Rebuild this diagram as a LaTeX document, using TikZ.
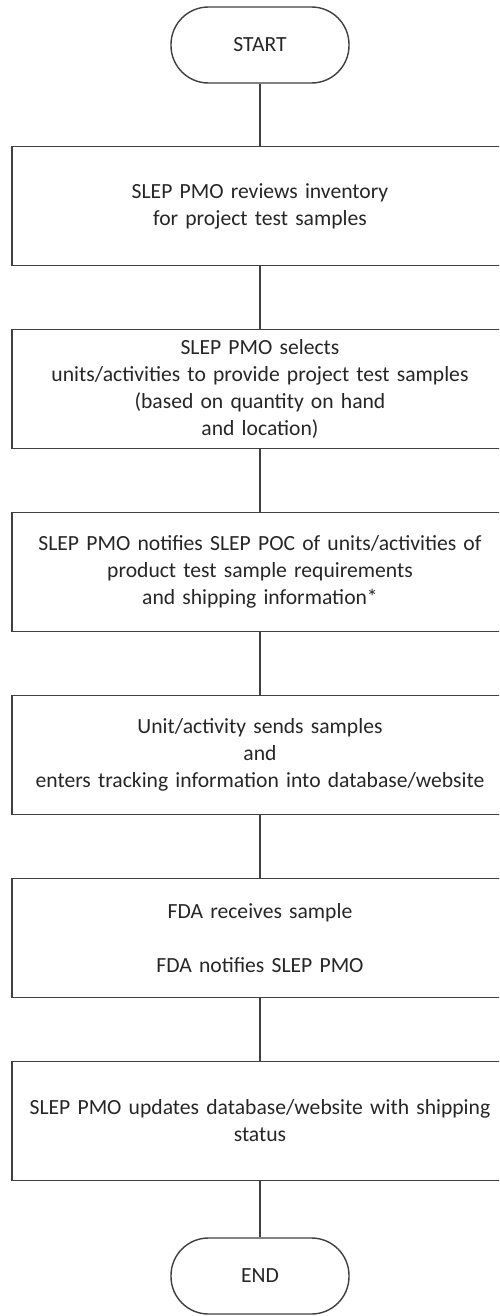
\documentclass[tikz,border=0pt]{standalone}
\usepackage{fontspec}
\setmainfont{Carlito}
\usepackage{tikz}
\usetikzlibrary{shapes,arrows}
\tikzstyle{terminal} = [rectangle, draw=black!75, line width=0.8pt, rounded corners=0.75cm,
    minimum width=3.56cm, minimum height=1.52cm, text=black!85]
\tikzstyle{block} = [rectangle, draw=black!75, line width=0.8pt, text width=9.7cm,
    text centered, minimum width=9.92cm, minimum height=2.38cm, inner sep=0pt, text=black!85]
\tikzstyle{line} = [draw=black!75, line width=0.8pt]

\begin{document}
\begin{tikzpicture}[node distance = 3.66cm, font=\fontsize{12.3}{15.4}\selectfont]
	\useasboundingbox (0,0) rectangle (9.98,-26.32);
	\clip (0,0) rectangle (9.98,-26.32);
			% Place nodes
			\node [terminal] at (5.2,-0.9) (start) {START};
			\node [block, below of=start, node distance=3.22cm] (reviewInventory) {SLEP PMO reviews inventory\\for project test samples};
			\node [block, below of=reviewInventory] (selectUnits) {SLEP PMO selects\\units/activities to provide project test samples\\(based on quantity on hand\\and location)};
			\node [block, below of=selectUnits] (notifyPoc) {SLEP PMO notifies SLEP POC of units/activities of\\product test sample requirements\\and shipping information*};
			\node [block, below of=notifyPoc] (sendSamples) {Unit/activity sends samples\\and\\enters tracking information into database/website};
			\node [block, below of=sendSamples] (fdaReceives) {FDA receives sample\\[15.4pt]FDA notifies SLEP PMO};
			\node [block, below of=fdaReceives] (updateStatus) {SLEP PMO updates database/website with shipping\\status};
			\node [terminal, below of=updateStatus, node distance=3.1cm] (end) {END};
			
			\path [line] (start) -- (reviewInventory);
			\path [line] (reviewInventory) -- (selectUnits);
			\path [line] (selectUnits) -- (notifyPoc);
			\path [line] (notifyPoc) -- (sendSamples);
			\path [line] (sendSamples) -- (fdaReceives);
			\path [line] (fdaReceives) -- (updateStatus);
			\path [line] (updateStatus) -- (end);
	\end{tikzpicture}
\end{document}
